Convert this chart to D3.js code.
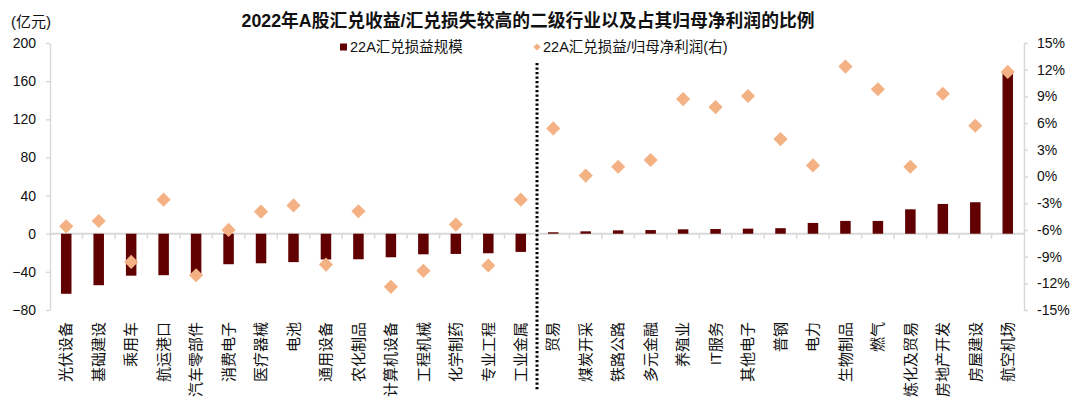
<!DOCTYPE html>
<html>
<head>
<meta charset="utf-8">
<script src="https://cdn.jsdelivr.net/npm/d3@7"></script>
<style>
    body { margin: 0; background: #fff; }
    svg text { font-family: "Liberation Sans", Arial, "Noto Sans CJK SC", sans-serif; fill: #111; }
</style>
</head>
<body>
<svg id="chart" width="1080" height="400"></svg>
<script>
const categories = ['光伏设备', '基础建设', '乘用车', '航运港口', '汽车零部件', '消费电子', '医疗器械', '电池',
    '通用设备', '农化制品', '计算机设备', '工程机械', '化学制药', '专业工程', '工业金属',
    '贸易', '煤炭开采', '铁路公路', '多元金融', '养殖业', 'IT服务', '其他电子', '普钢',
    '电力', '生物制品', '燃气', '炼化及贸易', '房地产开发', '房屋建设', '航空机场'];

// 22A汇兑损益规模 (亿元)
const fxGain = [-63, -54, -44, -43.5, -42, -32, -31, -29.8,
    -27, -26.8, -24.7, -21.6, -21.2, -20.5, -19.1,
    1.5, 2.5, 3.5, 3.8, 4.6, 4.9, 5.3, 5.8,
    11.3, 13.4, 13.4, 25.6, 31.2, 33, 169];

// 22A汇兑损益/归母净利润 (右轴)
const fxRatio = [-5.6, -5.0, -9.6, -2.6, -11.1, -6.0, -3.95, -3.25,
    -9.9, -3.9, -12.4, -10.6, -5.4, -10.0, -2.6,
    5.4, 0.1, 1.1, 1.85, 8.7, 7.8, 9.05, 4.2,
    1.25, 12.35, 9.8, 1.1, 9.3, 5.7, 11.75];

const leftTicks = [-80, -40, 0, 40, 80, 120, 160, 200];
const rightTicks = [-15, -12, -9, -6, -3, 0, 3, 6, 9, 12, 15];

const barColor = '#600000';
const dotColor = '#F4B183';
const axisColor = '#d9d9d9';

const svg = d3.select("#chart");
const plotLeft = 50, plotRight = 1024, plotTop = 43, plotBottom = 310;

const x = d3.scaleBand().domain(categories).range([plotLeft, plotRight]);
const yL = d3.scaleLinear().domain([-80, 200]).range([plotBottom, plotTop]);
const yR = d3.scaleLinear().domain([-15, 15]).range([plotBottom, plotTop]);
const barW = 10.5;

// title
svg.append("text").attr("x", 528).attr("y", 27).attr("text-anchor", "middle")
    .style("font-size", "17.8px").style("font-weight", "bold")
    .text("2022年A股汇兑收益/汇兑损失较高的二级行业以及占其归母净利润的比例");
svg.append("text").attr("x", 11).attr("y", 27).style("font-size", "15px").text("(亿元)");

// axes
let axL = svg.append("g").attr("transform", "translate(" + plotLeft + ",0)")
    .call(d3.axisLeft(yL).tickValues(leftTicks).tickSize(4).tickSizeOuter(0).tickPadding(10));
let axR = svg.append("g").attr("transform", "translate(" + plotRight + ",0)")
    .call(d3.axisRight(yR).tickValues(rightTicks).tickSize(4).tickSizeOuter(0).tickPadding(9)
        .tickFormat(function(d) { return d + "%"; }));
[axL, axR].forEach(function(ax) {
    ax.select(".domain").attr("stroke", axisColor).attr("stroke-width", 1.5);
    ax.selectAll(".tick line").attr("stroke", axisColor).attr("stroke-width", 1.5);
    ax.selectAll(".tick text").style("font-size", "14px").attr("fill", "#111");
});

// zero line with category ticks
let y0 = yL(0);
svg.append("line").attr("x1", plotLeft).attr("x2", plotRight).attr("y1", y0).attr("y2", y0)
    .attr("stroke", axisColor).attr("stroke-width", 2);
svg.selectAll("line.xtick")
    .data(categories.slice(1))
    .enter()
    .append("line")
    .attr("class", "xtick")
    .attr("x1", function(d) { return x(d); })
    .attr("x2", function(d) { return x(d); })
    .attr("y1", y0).attr("y2", y0 + 5)
    .attr("stroke", axisColor).attr("stroke-width", 1.5);

// bars
svg.selectAll("rect.bar")
    .data(fxGain)
    .enter()
    .append("rect")
    .attr("class", "bar")
    .attr("x", function(d, i) { return x(categories[i]) + (x.bandwidth() - barW) / 2; })
    .attr("y", function(d) { return Math.min(yL(d), y0); })
    .attr("width", barW)
    .attr("height", function(d) { return Math.abs(yL(d) - y0); })
    .attr("fill", barColor);

// divider
let xd = x(categories[15]);
svg.append("line").attr("x1", xd).attr("x2", xd).attr("y1", 63).attr("y2", 390)
    .attr("stroke", "#000").attr("stroke-width", 3).attr("stroke-dasharray", "2.3,2.2");

// diamonds
svg.selectAll("path.dot")
    .data(fxRatio)
    .enter()
    .append("path")
    .attr("class", "dot")
    .attr("d", d3.symbol(d3.symbolSquare, 100))
    .attr("transform", function(d, i) {
        return "translate(" + (x(categories[i]) + x.bandwidth() / 2) + "," + yR(d) + ") rotate(45)";
    })
    .attr("fill", dotColor);

// category labels
svg.selectAll("text.cat")
    .data(categories)
    .enter()
    .append("text")
    .attr("class", "cat")
    .attr("text-anchor", "end")
    .attr("dy", "0.35em")
    .attr("transform", function(d) {
        return "translate(" + (x(d) + x.bandwidth() / 2) + ",322) rotate(-90)";
    })
    .style("font-size", "15px")
    .text(function(d) { return d; });

// legend
let lg = svg.append("g");
lg.append("rect").attr("x", 340).attr("y", 43.5).attr("width", 7).attr("height", 7).attr("fill", barColor);
lg.append("text").attr("x", 350).attr("y", 52).style("font-size", "14.5px").text("22A汇兑损益规模");
lg.append("path").attr("d", d3.symbol(d3.symbolSquare, 26))
    .attr("transform", "translate(537,47) rotate(45)").attr("fill", dotColor);
lg.append("text").attr("x", 543).attr("y", 52).style("font-size", "14.5px").text("22A汇兑损益/归母净利润(右)");
</script>
</body>
</html>
